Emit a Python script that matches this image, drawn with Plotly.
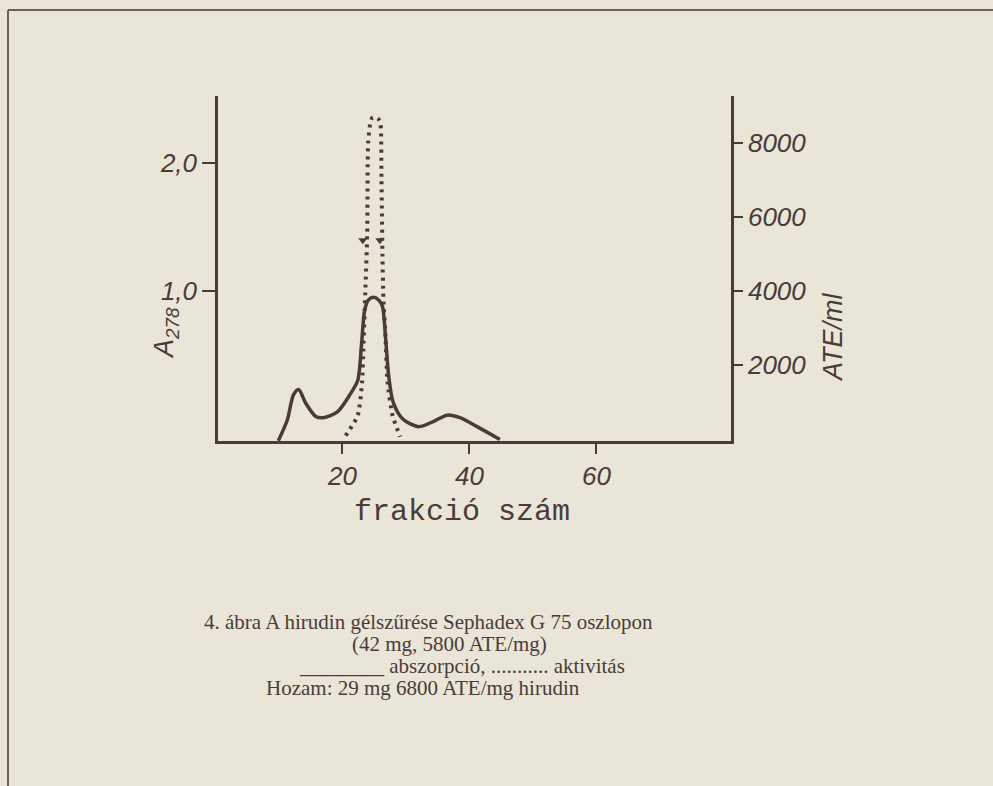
import plotly.graph_objects as go

# ---- data ----
abs_frac = [9.9, 11.3, 12.3, 13.1, 14.2, 15.8, 17.0, 19.2, 21.3, 22.4, 23.0, 23.5, 24.1,
            24.9, 25.7, 26.3, 26.8, 27.3, 28.0, 29.5, 32.0, 34.3, 36.5, 38.5, 41.2, 44.8]
abs_a278 = [-0.17, -0.01, 0.19, 0.23, 0.125, 0.02, 0.01, 0.055, 0.20, 0.30, 0.58, 0.85, 0.93,
            0.95, 0.93, 0.88, 0.63, 0.33, 0.13, 0.0, -0.06, -0.02, 0.03, 0.01, -0.06, -0.16]

act_frac = [20.5, 22.4, 23.1, 23.3, 23.6, 23.9, 24.05, 24.4, 24.7, 25.2, 25.7, 26.0,
            26.15, 26.3, 26.45, 26.75, 27.1, 27.9, 29.1]
act_ate = [90, 630, 1540, 2425, 3950, 5560, 8000, 8550, 8680, 8700, 8640, 8500,
           7000, 5000, 3800, 2880, 1540, 630, 60]

mark_frac = [23.2, 25.9]
mark_ate = [5370, 5370]

x_ticks = [20, 40, 60]
left_ticks = [1.0, 2.0]
left_labels = ["1,0", "2,0"]
right_ticks = [2000, 4000, 6000, 8000]
right_labels = ["2000", "4000", "6000", "8000"]

caption_lines = [
    "4. ábra A hirudin gélszűrése Sephadex G 75 oszlopon",
    "(42 mg, 5800 ATE/mg)",
    "________ abszorpció, ........... aktivitás",
    "Hozam: 29 mg 6800 ATE/mg hirudin",
]

# ---- style ----
W, H = 993, 786
L, R, T, B = 218, 731, 96, 441
INK = "#4b3b37"
BG = "#e9e6d8"


def px(xp):
    return (xp - L) / (R - L)


def py(yp):
    return (B - yp) / (B - T)


tick_font = dict(family="Liberation Sans", size=26, color=INK, style="italic")

fig = go.Figure()
fig.add_trace(go.Scatter(
    x=abs_frac, y=abs_a278, mode="lines",
    line=dict(color=INK, width=3.5, shape="spline", smoothing=0.8),
    showlegend=False, hoverinfo="skip"))
fig.add_trace(go.Scatter(
    x=act_frac, y=act_ate, mode="lines", yaxis="y2",
    line=dict(color=INK, width=4, dash="3px,5px", shape="spline", smoothing=0.6),
    showlegend=False, hoverinfo="skip"))
fig.add_trace(go.Scatter(
    x=mark_frac, y=mark_ate, mode="markers", yaxis="y2",
    marker=dict(symbol="triangle-down", size=8, color=INK),
    showlegend=False, hoverinfo="skip"))

fig.update_layout(
    width=W, height=H,
    margin=dict(l=L, r=W - R, t=T, b=H - B, pad=0),
    paper_bgcolor=BG, plot_bgcolor=BG,
    xaxis=dict(range=[0.4, 81.2], tickvals=x_ticks, ticktext=[str(v) for v in x_ticks],
               showgrid=False, zeroline=False, showline=True, linecolor=INK, linewidth=2.5,
               ticks="outside", ticklen=10, tickwidth=2, tickcolor=INK, tickfont=tick_font),
    yaxis=dict(range=[-0.172, 2.523], tickvals=left_ticks, ticktext=left_labels,
               showgrid=False, zeroline=False, showline=True, linecolor=INK, linewidth=2.5,
               ticks="outside", ticklen=13, tickwidth=2, tickcolor=INK, tickfont=tick_font),
    yaxis2=dict(range=[-54, 9270], tickvals=right_ticks, ticktext=right_labels,
                overlaying="y", side="right",
                showgrid=False, zeroline=False, showline=True, linecolor=INK, linewidth=2.5,
                ticks="outside", ticklen=9, tickwidth=2, tickcolor=INK, tickfont=tick_font),
)

annotations = [
    dict(text="frakció szám", x=px(462), y=py(512), xref="paper", yref="paper",
         showarrow=False, xanchor="center", yanchor="middle",
         font=dict(family="Liberation Mono", size=30, color=INK)),
    dict(text="A<sub>278</sub>", x=px(166), y=py(333), xref="paper", yref="paper",
         showarrow=False, xanchor="center", yanchor="middle", textangle=-90,
         font=dict(family="Liberation Sans", size=27, color=INK, style="italic")),
    dict(text="ATE/ml", x=px(833), y=py(338), xref="paper", yref="paper",
         showarrow=False, xanchor="center", yanchor="middle", textangle=-90,
         font=dict(family="Liberation Sans", size=27, color=INK, style="italic")),
]
cap_y = [622, 644, 666, 688]
cap_x = [202, 350, 297, 264]
for line, yy, xx in zip(caption_lines, cap_y, cap_x):
    annotations.append(dict(text=line, x=px(xx), y=py(yy), xref="paper", yref="paper",
                            showarrow=False, xanchor="left", yanchor="middle",
                            font=dict(family="Liberation Serif", size=21, color=INK)))
fig.update_layout(annotations=annotations)

# frame lines of the scanned page
frame_color = "#6e5f5c"
fig.add_shape(type="line", xref="paper", yref="paper", x0=px(8), x1=px(W), y0=py(10), y1=py(10),
              line=dict(color=frame_color, width=2))
fig.add_shape(type="line", xref="paper", yref="paper", x0=px(8), x1=px(8), y0=py(10), y1=py(H),
              line=dict(color=frame_color, width=2))

fig.write_html("out.html", config={"displayModeBar": False},
               post_script="document.body.style.margin='0';document.body.style.background='%s';" % BG)
